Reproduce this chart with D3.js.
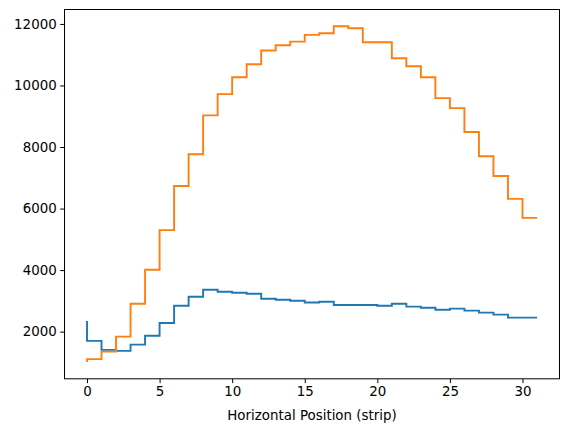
<!DOCTYPE html>
<html>
<head>
<meta charset="utf-8">
<script src="https://cdn.jsdelivr.net/npm/d3@7"></script>
<style>
  body { margin: 0; background: #fff; }
  svg { display: block; }
  text { font-family: "DejaVu Sans", sans-serif; fill: #000; }
</style>
</head>
<body>
<svg id="chart" width="569" height="432"></svg>
<script>
const strips = d3.range(0, 32);
const seriesBlue = [2347, 1700, 1407, 1374, 1578, 1865, 2282, 2843, 3135, 3362, 3297, 3265, 3232, 3070, 3038, 3005,
  2945, 2973, 2866, 2866, 2866, 2843, 2908, 2811, 2778, 2713, 2746, 2681, 2616, 2551, 2454, 2454];
const seriesOrange = [1012, 1105, 1350, 1838, 2908, 4011, 5298, 6735, 7763, 9028, 9718, 10270, 10691, 11135, 11310, 11427,
  11645, 11697, 11924, 11859, 11405, 11405, 10886, 10627, 10270, 9589, 9264, 8486, 7698, 7059, 6313, 5697];
const xTicks = [0, 5, 10, 15, 20, 25, 30];
const yTicks = [2000, 4000, 6000, 8000, 10000, 12000];
const xLabel = "Horizontal Position (strip)";
const colors = ["#1f77b4", "#ff7f0e"];

const svg = d3.select("#chart");
const L = 64.5, R = 559.5, T = 9.5, B = 378.8;
const FS = 13.4;

const xMin = d3.min(strips), xMax = d3.max(strips);
const xPad = (xMax - xMin) * 0.05;
const allY = seriesBlue.concat(seriesOrange);
const yMin = d3.min(allY), yMax = d3.max(allY);
const yPad = (yMax - yMin) * 0.05;

const x = d3.scaleLinear().domain([xMin - xPad, xMax + xPad]).range([L, R]);
const y = d3.scaleLinear().domain([yMin - yPad, yMax + yPad]).range([B, T]);

const line = d3.line()
  .x((d, i) => x(strips[i]))
  .y(d => y(d))
  .curve(d3.curveStepBefore);

[seriesBlue, seriesOrange].forEach((s, k) => {
  svg.append("path")
    .attr("d", line(s))
    .attr("fill", "none")
    .attr("stroke", colors[k])
    .attr("stroke-width", 1.9)
    .attr("stroke-linejoin", "miter")
    .attr("stroke-linecap", "butt");
});

// frame
svg.append("rect")
  .attr("x", L).attr("y", T)
  .attr("width", R - L).attr("height", B - T)
  .attr("fill", "none").attr("stroke", "#000").attr("stroke-width", 1);

// axes
const xAxis = d3.axisBottom(x).tickValues(xTicks).tickSize(4.3).tickPadding(3.5).tickFormat(d3.format("d"));
const yAxis = d3.axisLeft(y).tickValues(yTicks).tickSize(4.3).tickPadding(3.5).tickFormat(d3.format("d"));

const gx = svg.append("g").attr("transform", `translate(0,${B})`).call(xAxis);
const gy = svg.append("g").attr("transform", `translate(${L},0)`).call(yAxis);
[gx, gy].forEach(g => {
  g.select(".domain").remove();
  g.selectAll(".tick line").attr("stroke", "#000").attr("stroke-width", 1);
  g.selectAll(".tick text").attr("font-size", FS).attr("font-family", "DejaVu Sans, sans-serif").attr("fill", "#000");
});

svg.append("text")
  .attr("x", (L + R) / 2)
  .attr("y", 420)
  .attr("text-anchor", "middle")
  .attr("font-size", FS)
  .text(xLabel);
</script>
</body>
</html>
